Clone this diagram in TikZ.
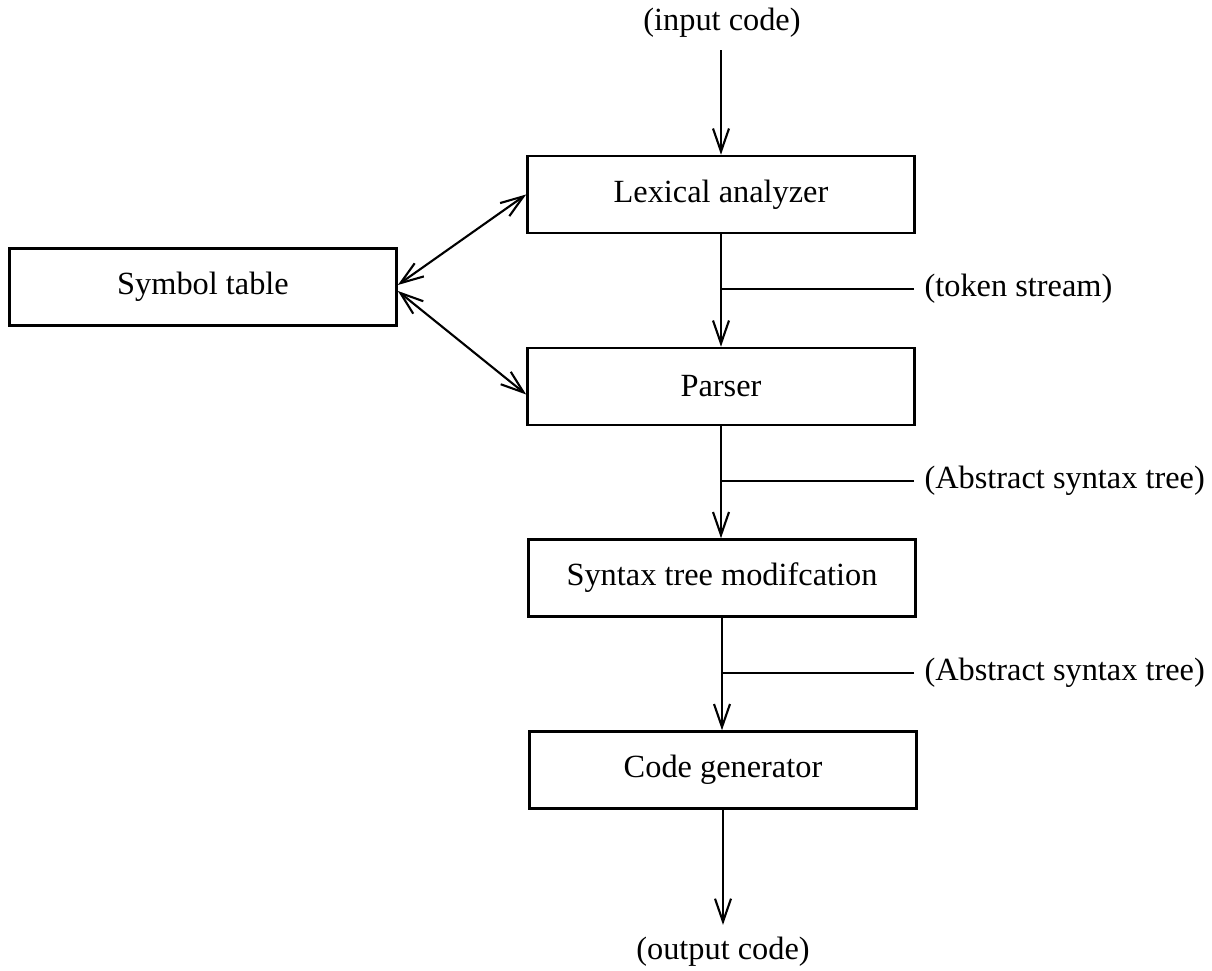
\documentclass[tikz,border=0pt]{standalone}
\usepackage{fontspec}
\setmainfont{Liberation Serif}
\usetikzlibrary{arrows.meta}
\tikzset{
  stage/.style={draw, line width=0.7pt, minimum width=3.87cm, minimum height=0.77cm, inner sep=0pt},
  tag/.style={anchor=west, inner xsep=2.8pt},
  flow/.style={-{Straight Barb[length=2.3mm,width=1.6mm]}, line width=0.6pt},
  lookup/.style={{Straight Barb[length=2.3mm,width=1.6mm]}-{Straight Barb[length=2.3mm,width=1.6mm]}, line width=0.6pt},
}
\begin{document}
\begin{tikzpicture}[x=0.01cm, y=-0.01cm, font=\fontsize{9.2}{11}\selectfont]
\useasboundingbox (0,0) rectangle (1212,971);
\node (in) at (722,23) {(input code)};
\node[stage] (lex) at (721,194.5) {Lexical analyzer};
\node[stage] (sym) at (203,287) {Symbol table};
\node[stage] (par) at (721,386.5) {Parser};
\node[stage] (mod) at (722,578) {Syntax tree modifcation};
\node[stage] (gen) at (723,770) {Code generator};
\node (out) at (723,952) {(output code)};
% labels on the data flow
\node[tag] (tok) at (914,289) {(token stream)};
\node[tag] (ast1) at (914,481) {(Abstract syntax tree)};
\node[tag] (ast2) at (914,673) {(Abstract syntax tree)};
\draw[flow] (in.south -| lex.north) -- (lex.north);
\draw[flow] (lex.south) -- (lex.south |- par.north);
\draw[flow] (par.south) -- (par.south |- mod.north);
\draw[flow] (mod.south) -- (mod.south |- gen.north);
\draw[flow] (gen.south) -- (gen.south |- out.north);
\draw[line width=0.6pt] (tok.west) -- (tok.west -| lex.south);
\draw[line width=0.6pt] (ast1.west) -- (ast1.west -| par.south);
\draw[line width=0.6pt] (ast2.west) -- (ast2.west -| mod.south);
\draw[lookup] ([yshift=0.02cm]sym.east) -- (lex.west);
\draw[lookup] ([yshift=-0.04cm]sym.east) -- ([yshift=-0.08cm]par.west);
\end{tikzpicture}
\end{document}
